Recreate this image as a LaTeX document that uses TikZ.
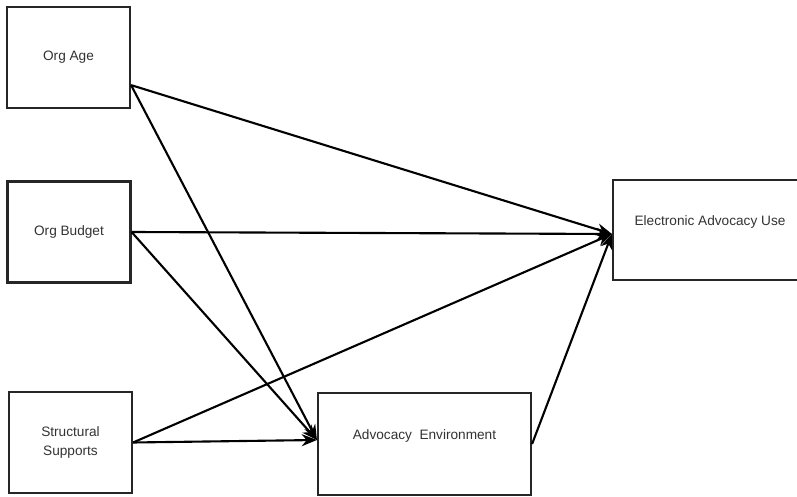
\documentclass[tikz,border=0pt]{standalone}
\usepackage{fontspec}
\setmainfont{Liberation Sans}
\usetikzlibrary{arrows.meta,positioning}

\begin{document}
\begin{tikzpicture}[x=0.025cm,y=-0.025cm,
  every node/.style={font=\fontsize{9.7}{13.5}\selectfont,text=black!80},
  var/.style={draw=black!85,line width=1.5pt,align=center,inner sep=3pt,minimum width=3.075cm,minimum height=2.525cm},
  dv/.style={var,minimum height=2.55cm,text depth=14pt},
  ar/.style={-{Stealth[length=3.8mm,width=3mm]},line width=1.5pt}]
\fill[white] (0,0) rectangle (797,497);
\useasboundingbox (0,0) rectangle (797,497);
\node[var] (age) at (68.5,57.5) {Org Age};
\node[var] (budget) at (69,232) {Org Budget};
\node[var] (supp) at (70.5,442.5) {Structural\\Supports};
\node[dv,minimum width=5.325cm] (env) at (424.5,444) {Advocacy\ \ Environment};
\node[dv,minimum width=4.85cm,minimum height=2.5cm] (use) at (710,230) {Electronic Advocacy Use};
\coordinate (ageout) at ([yshift=-0.69cm]age.east);
\coordinate (usein) at ([yshift=-0.1cm]use.west);
\coordinate (envin) at ([yshift=0.1cm]env.west);
\foreach \s in {ageout,budget.east,supp.east} \draw[ar] (\s) -- (usein);
\foreach \s in {ageout,budget.east,supp.east} \draw[ar] (\s) -- (envin);
\draw[ar] (env.east) -- (usein);
\end{tikzpicture}
\end{document}
